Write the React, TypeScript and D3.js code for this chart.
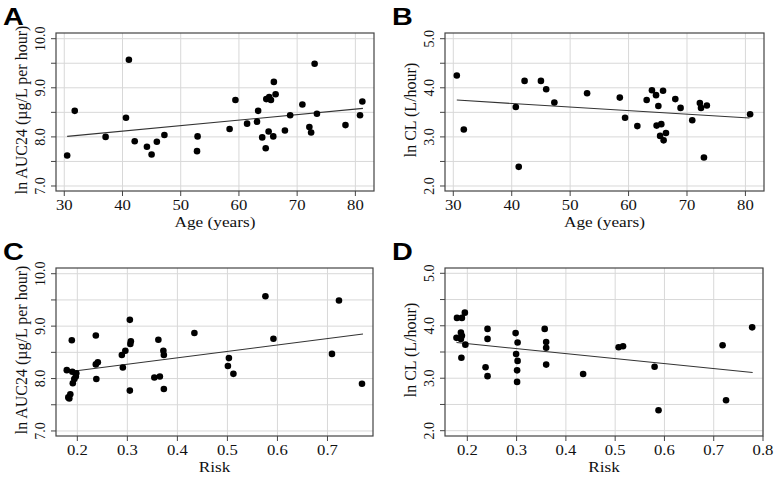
import React from "react";
import * as d3 from "d3";

// ---- Data ----
const ageA = [30.5, 31.8, 37.1, 40.6, 41.1, 42.1, 44.2, 45.0, 45.9, 47.2, 52.9, 52.8, 58.4, 59.4, 61.4, 63.1, 63.3, 64.0, 64.6, 65.1, 64.7, 65.2, 65.5, 66.0, 66.3, 65.9, 67.9, 68.8, 70.9, 72.1, 72.4, 73.0, 73.4, 78.3, 80.8, 81.2];
const aucA = [7.62, 8.53, 8.0, 8.39, 9.57, 7.91, 7.8, 7.64, 7.9, 8.04, 8.01, 7.71, 8.16, 8.75, 8.27, 8.31, 8.53, 7.99, 7.77, 8.11, 8.77, 8.81, 8.75, 9.12, 8.87, 8.01, 8.13, 8.44, 8.66, 8.2, 8.09, 9.49, 8.47, 8.24, 8.44, 8.72];

const ageB = [30.6, 31.8, 40.7, 41.2, 42.2, 45.0, 45.9, 47.3, 52.9, 58.5, 59.4, 61.5, 63.1, 64.0, 64.7, 65.1, 65.9, 64.8, 65.6, 65.4, 66.4, 66.0, 68.0, 68.9, 70.9, 72.2, 72.4, 73.4, 72.9, 80.8];
const clB = [4.25, 3.15, 3.61, 2.39, 4.14, 4.14, 3.97, 3.7, 3.89, 3.8, 3.39, 3.22, 3.75, 3.95, 3.85, 3.63, 3.94, 3.23, 3.26, 3.02, 3.08, 2.93, 3.77, 3.59, 3.34, 3.69, 3.59, 3.64, 2.58, 3.46];

const riskC = [0.189, 0.179, 0.19, 0.198, 0.197, 0.194, 0.191, 0.186, 0.182, 0.184, 0.237, 0.241, 0.237, 0.238, 0.289, 0.291, 0.296, 0.305, 0.305, 0.306, 0.307, 0.354, 0.362, 0.365, 0.372, 0.373, 0.373, 0.434, 0.503, 0.501, 0.512, 0.576, 0.592, 0.709, 0.723, 0.769];
const aucC = [8.73, 8.16, 8.13, 8.1, 8.04, 7.99, 7.91, 7.7, 7.64, 7.62, 8.82, 8.31, 8.27, 7.99, 8.45, 8.21, 8.53, 9.12, 7.77, 8.66, 8.71, 8.02, 8.74, 8.04, 8.53, 8.45, 7.8, 8.87, 8.39, 8.24, 8.09, 9.57, 8.76, 8.47, 9.49, 7.9];

const riskD = [0.179, 0.189, 0.195, 0.187, 0.189, 0.178, 0.187, 0.196, 0.188, 0.241, 0.241, 0.237, 0.241, 0.298, 0.302, 0.299, 0.302, 0.301, 0.301, 0.357, 0.36, 0.36, 0.36, 0.435, 0.507, 0.516, 0.58, 0.588, 0.718, 0.725, 0.778];
const clD = [4.15, 4.15, 4.25, 3.87, 3.81, 3.77, 3.75, 3.64, 3.39, 3.94, 3.75, 3.21, 3.04, 3.86, 3.68, 3.46, 3.33, 3.15, 2.93, 3.94, 3.69, 3.58, 3.26, 3.08, 3.59, 3.61, 3.22, 2.39, 3.63, 2.58, 3.97];

// fitted lines: [x0, y0, x1, y1]
const fitA = [30.5, 8.01, 81.3, 8.58];
const fitB = [30.6, 3.75, 80.7, 3.385];
const fitC = [0.179, 8.126, 0.771, 8.85];
const fitD = [0.178, 3.68, 0.779, 3.11];

const ageTicks = [30, 40, 50, 60, 70, 80];
const riskTicksC = [0.2, 0.3, 0.4, 0.5, 0.6, 0.7];
const riskTicksD = [0.2, 0.3, 0.4, 0.5, 0.6, 0.7, 0.8];
const aucTicks = [7, 8, 9, 10];
const aucGrid = [7, 7.5, 8, 8.5, 9, 9.5, 10];
const clTicks = [2, 3, 4, 5];
const clGrid = [2, 2.5, 3, 3.5, 4, 4.5, 5];

const SERIF = "'Liberation Serif', 'Times New Roman', serif";
const SANS = "'Liberation Sans', Arial, sans-serif";
const SX = 1.15;

type PanelProps = {
  letter: string;
  fx: number; fy: number; fw: number; fh: number;
  xDomain: [number, number]; yDomain: [number, number];
  xTicks: number[]; yTicks: number[]; yGrid: number[];
  xs: number[]; ys: number[]; fit: number[];
  xLabel: string; yLabel: string; xFmt: (v: number) => string;
};

function Panel(p: PanelProps) {
  const x = d3.scaleLinear().domain(p.xDomain).range([p.fx, p.fx + p.fw]);
  const y = d3.scaleLinear().domain(p.yDomain).range([p.fy + p.fh, p.fy]);
  const bottom = p.fy + p.fh;
  const line = d3.line<[number, number]>().x((d) => x(d[0])).y((d) => y(d[1]));
  const fitPts: [number, number][] = [[p.fit[0], p.fit[1]], [p.fit[2], p.fit[3]]];
  const yFmt = d3.format(".1f");
  return (
    <g>
      <text transform={`translate(${p.fx - 53},${p.fy - 8}) scale(1.2,1)`} fontFamily={SANS} fontWeight="bold" fontSize={24} fill="#000">{p.letter}</text>
      <rect x={p.fx} y={p.fy} width={p.fw} height={p.fh} fill="#fff" />
      {p.yGrid.map((v) => (
        <line key={"gy" + v} x1={p.fx} x2={p.fx + p.fw} y1={y(v)} y2={y(v)} stroke="#d8d8d8" strokeWidth={1} />
      ))}
      {p.xTicks.map((v) => (
        <line key={"gx" + v} x1={x(v)} x2={x(v)} y1={p.fy} y2={bottom} stroke="#d8d8d8" strokeWidth={1} />
      ))}
      <rect x={p.fx} y={p.fy} width={p.fw} height={p.fh} fill="none" stroke="#444" strokeWidth={1.2} />
      {p.yGrid.map((v) => (
        <line key={"ty" + v} x1={p.fx - 5} x2={p.fx} y1={y(v)} y2={y(v)} stroke="#444" strokeWidth={1} />
      ))}
      {p.yTicks.map((v) => (
        <text key={"ly" + v} transform={`translate(${p.fx - 11},${y(v)}) rotate(-90)`} textAnchor="middle" fontFamily={SERIF} fontSize={14} fill="#111">{yFmt(v)}</text>
      ))}
      {p.xTicks.map((v) => (
        <g key={"tx" + v}>
          <line x1={x(v)} x2={x(v)} y1={bottom} y2={bottom + 5} stroke="#444" strokeWidth={1} />
          <text transform={`translate(${x(v)},${bottom + 19}) scale(${SX},1)`} textAnchor="middle" fontFamily={SERIF} fontSize={14.5} fill="#111">{p.xFmt(v)}</text>
        </g>
      ))}
      <path d={line(fitPts) || ""} stroke="#333" strokeWidth={1.1} fill="none" />
      {p.xs.map((v, i) => (
        <circle key={"pt" + i} cx={x(v)} cy={y(p.ys[i])} r={3.3} fill="#000" />
      ))}
      <text transform={`translate(${p.fx + p.fw / 2},${bottom + 36}) scale(${SX},1)`} textAnchor="middle" fontFamily={SERIF} fontSize={15} fill="#111">{p.xLabel}</text>
      <text transform={`translate(${p.fx - 29},${p.fy + p.fh / 2 - 2}) rotate(-90)`} textAnchor="middle" fontFamily={SERIF} fontSize={16} fill="#111">{p.yLabel}</text>
    </g>
  );
}

export default function App() {
  const ageFmt = d3.format("d");
  const riskFmt = d3.format(".1f");
  return (
    <svg width={774} height={477} style={{ position: "absolute", left: 0, top: 0, background: "#fff" }}>
      <rect width={774} height={477} fill="#fff" />
      <Panel letter="A" fx={56} fy={33} fw={318} fh={158} xDomain={[28.58, 83.2]} yDomain={[6.898, 10.116]}
        xTicks={ageTicks} yTicks={aucTicks} yGrid={aucGrid} xs={ageA} ys={aucA} fit={fitA}
        xLabel="Age (years)" yLabel="ln AUC24 (µg/L per hour)" xFmt={ageFmt} />
      <Panel letter="B" fx={445} fy={33} fw={319} fh={158} xDomain={[28.58, 83.18]} yDomain={[1.898, 5.116]}
        xTicks={ageTicks} yTicks={clTicks} yGrid={clGrid} xs={ageB} ys={clB} fit={fitB}
        xLabel="Age (years)" yLabel="ln CL (L/hour)" xFmt={ageFmt} />
      <Panel letter="C" fx={56} fy={268} fw={317} fh={168} xDomain={[0.1574, 0.791]} yDomain={[6.904, 10.109]}
        xTicks={riskTicksC} yTicks={aucTicks} yGrid={aucGrid} xs={riskC} ys={aucC} fit={fitC}
        xLabel="Risk" yLabel="ln AUC24 (µg/L per hour)" xFmt={riskFmt} />
      <Panel letter="D" fx={445} fy={268} fw={318} fh={168} xDomain={[0.1547, 0.8]} yDomain={[1.899, 5.101]}
        xTicks={riskTicksD} yTicks={clTicks} yGrid={clGrid} xs={riskD} ys={clD} fit={fitD}
        xLabel="Risk" yLabel="ln CL (L/hour)" xFmt={riskFmt} />
    </svg>
  );
}
